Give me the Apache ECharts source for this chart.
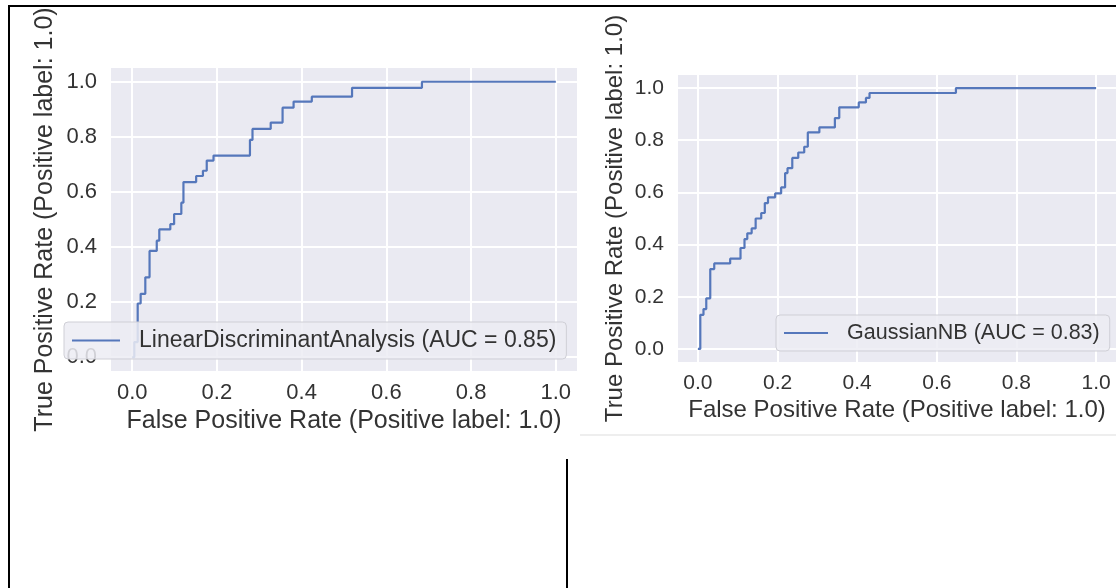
<!DOCTYPE html>
<html lang="en">
<head>
<meta charset="UTF-8">
<title>ROC curves</title>
<script src="https://cdn.jsdelivr.net/npm/echarts@6/dist/echarts.min.js"></script>
<style>
  html, body { margin: 0; padding: 0; background: #fff; }
  #main { width: 1116px; height: 588px; }
</style>
</head>
<body>
<div id="main"></div>
<script>
// ROC staircase points: fpr where a step happens, tpr after the step
const ldaFpr = [0, 0.005, 0.013, 0.02, 0.031, 0.041, 0.058, 0.064, 0.09, 0.099, 0.116, 0.121, 0.151, 0.167, 0.176, 0.192, 0.278, 0.284, 0.327, 0.355, 0.381, 0.424, 0.519, 0.684, 1.0];
const ldaTpr = [0, 0.055, 0.195, 0.23, 0.29, 0.386, 0.423, 0.464, 0.483, 0.52, 0.561, 0.636, 0.658, 0.677, 0.714, 0.732, 0.789, 0.829, 0.852, 0.906, 0.928, 0.946, 0.978, 1.0, 1.0];

const nbFpr = [0, 0.006, 0.014, 0.021, 0.031, 0.041, 0.081, 0.107, 0.117, 0.124, 0.135, 0.145, 0.159, 0.168, 0.176, 0.194, 0.209, 0.219, 0.225, 0.237, 0.252, 0.267, 0.276, 0.305, 0.344, 0.355, 0.404, 0.422, 0.431, 0.648, 1.0];
const nbTpr = [0, 0.131, 0.153, 0.194, 0.306, 0.328, 0.346, 0.387, 0.421, 0.443, 0.462, 0.5, 0.521, 0.559, 0.581, 0.596, 0.619, 0.674, 0.693, 0.732, 0.753, 0.775, 0.83, 0.849, 0.885, 0.926, 0.945, 0.962, 0.981, 1.0, 1.0];

const tickValues = [0, 0.2, 0.4, 0.6, 0.8, 1.0];
const ldaName = 'LinearDiscriminantAnalysis (AUC = 0.85)';
const nbName = 'GaussianNB (AUC = 0.83)';
const xTitle = 'False Positive Rate (Positive label: 1.0)';
const yTitle = 'True Positive Rate (Positive label: 1.0)';

const font = '"Liberation Sans", Arial, sans-serif';
const textColor = '#333';
const lineColor = '#5577bb';

function zip(xs, ys) {
    return xs.map((x, i) => [x, ys[i]]);
}

// one axis pair per panel, same look for both
function makeX(idx, tickSize, titleSize, gap) {
    return {
        type: 'value', gridIndex: idx, min: -0.05, max: 1.05,
        axisLine: { show: false }, axisTick: { show: false, customValues: tickValues },
        axisLabel: { customValues: tickValues, formatter: v => v.toFixed(1), fontSize: tickSize,
            color: textColor, fontFamily: font, margin: 11 },
        splitLine: { show: true, lineStyle: { color: '#fff', width: 2 } },
        name: xTitle, nameLocation: 'middle', nameGap: gap,
        nameTextStyle: { fontSize: titleSize, color: textColor, fontFamily: font }
    };
}
function makeY(idx, tickSize, titleSize, gap) {
    return {
        type: 'value', gridIndex: idx, min: -0.05, max: 1.05,
        axisLine: { show: false }, axisTick: { show: false, customValues: tickValues },
        axisLabel: { customValues: tickValues, formatter: v => v.toFixed(1), fontSize: tickSize,
            color: textColor, fontFamily: font, margin: 14 },
        splitLine: { show: true, lineStyle: { color: '#fff', width: 2 } },
        name: yTitle, nameLocation: 'middle', nameGap: gap,
        nameTextStyle: { fontSize: titleSize, color: textColor, fontFamily: font }
    };
}
function makeLegend(name, left, top, size, iconW) {
    return {
        data: [name], left: left, top: top, orient: 'horizontal',
        icon: 'rect', itemWidth: iconW, itemHeight: 2,
        padding: [7, 10, 7, 8],
        backgroundColor: 'rgba(236,236,243,0.85)', borderColor: '#cfcfd6', borderWidth: 1, borderRadius: 4,
        textStyle: { fontSize: size, color: textColor, fontFamily: font, padding: [0, 0, 0, 14] }
    };
}

const chart = echarts.init(document.getElementById('main'));
chart.setOption({
    animation: false,
    backgroundColor: '#fff',
    grid: [
        { left: 111, top: 68, width: 466, height: 303, show: true, backgroundColor: '#eaeaf2', borderWidth: 0 },
        { left: 678, top: 75, width: 444, height: 287, show: true, backgroundColor: '#eaeaf2', borderWidth: 0 }
    ],
    xAxis: [makeX(0, 22, 25, 38), makeX(1, 21, 24, 36)],
    yAxis: [makeY(0, 22, 25, 53), makeY(1, 21, 24, 51)],
    legend: [makeLegend(ldaName, 64, 322, 23, 48), makeLegend(nbName, 776, 315, 21.5, 44)],
    series: [
        { name: ldaName, type: 'line', xAxisIndex: 0, yAxisIndex: 0, step: 'end', showSymbol: false,
          data: zip(ldaFpr, ldaTpr), lineStyle: { color: lineColor, width: 2.2 }, itemStyle: { color: lineColor } },
        { name: nbName, type: 'line', xAxisIndex: 1, yAxisIndex: 1, step: 'end', showSymbol: false,
          data: zip(nbFpr, nbTpr), lineStyle: { color: lineColor, width: 2.2 }, itemStyle: { color: lineColor } }
    ],
    // page borders from the screenshot
    graphic: [
        { type: 'line', shape: { x1: 8, y1: 6, x2: 1116, y2: 6 }, style: { stroke: '#000', lineWidth: 2 } },
        { type: 'line', shape: { x1: 9, y1: 6, x2: 9, y2: 588 }, style: { stroke: '#000', lineWidth: 2 } },
        { type: 'line', shape: { x1: 567, y1: 459, x2: 567, y2: 588 }, style: { stroke: '#000', lineWidth: 2 } },
        { type: 'line', shape: { x1: 580, y1: 435, x2: 1116, y2: 435 }, style: { stroke: '#eeeeee', lineWidth: 2 } }
    ]
});
</script>
</body>
</html>
